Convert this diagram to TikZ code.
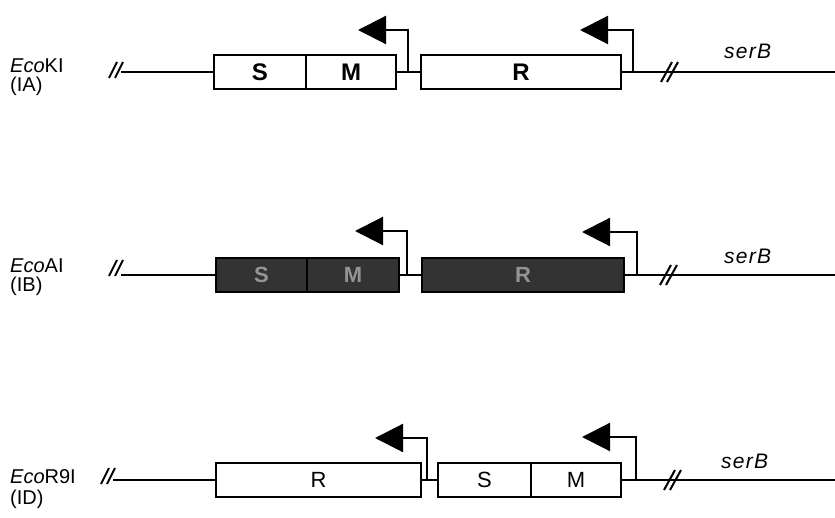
\documentclass[tikz,border=0pt]{standalone}
\usepackage{fontspec}
\setmainfont{Liberation Sans}
\usetikzlibrary{arrows.meta}

\begin{document}
\begin{tikzpicture}[x=1pt,y=-1pt,
  dna/.style={line width=2.4pt},
  prom/.style={line width=2.2pt, -{Triangle[length=28pt,width=28pt]}},
  gene/.style={draw=black, line width=2pt, minimum height=34pt, inner sep=0pt,
    anchor=west, fill=white, font=\fontsize{24}{24}\selectfont\bfseries},
  plain/.style={gene, font=\fontsize{22}{22}\selectfont},
  dark/.style={gene, fill=black!80, text=black!42, font=\fontsize{22}{22}\selectfont\bfseries},
  lab/.style={anchor=base west, inner sep=0pt, font=\fontsize{20}{20}\selectfont},
  locus/.style={anchor=base west, inner sep=0pt, font=\fontsize{21}{21}\selectfont\itshape\addfontfeature{LetterSpace=6}},
  brk/.pic={\draw[line width=2pt] (-8,10) -- (3,-10) (-2,10) -- (9,-10);},
  brkl/.pic={\draw[line width=2pt] (-7,8) -- (1,-8) (-1,8) -- (7,-8);}
]
\useasboundingbox (0,0) rectangle (835,518);

% ---- EcoKI (IA)
\node[lab] (kn) at (10,73) {\textit{Eco}KI};
\node[lab] (kc) at (10,92) {(IA)};
\pic at (116,70) {brkl};
\coordinate (k0) at (121,72);
\node[gene, minimum width=92pt] (kS) at (213,72) {S};
\node[gene, minimum width=90pt] (kM) at (305,72) {M};
\node[gene, minimum width=200pt] (kR) at (420,72) {R};
\coordinate (k1) at (835,72);
\draw[dna] (k0) -- (kS.west);
\draw[dna] (kM.east) -- (kR.west);
\draw[dna] (kR.east) -- (k1);
\coordinate (kp1) at (408,72);
\coordinate (kt1) at (358,30);
\coordinate (kp2) at (633,72);
\coordinate (kt2) at (580,30);
\draw[prom] (kp1) |- (kt1);
\draw[prom] (kp2) |- (kt2);
\pic at (669,72) {brk};
\node[locus] (ks) at (724,59) {serB};

% ---- EcoAI (IB)
\node[lab] (an) at (10,273) {\textit{Eco}AI};
\node[lab] (ac) at (10,292) {(IB)};
\pic at (116,268) {brkl};
\coordinate (a0) at (121,275);
\node[dark, minimum width=91pt] (aS) at (215,275) {S};
\node[dark, minimum width=92pt] (aM) at (306,275) {M};
\node[dark, minimum width=202pt] (aR) at (421,275) {R};
\coordinate (a1) at (835,275);
\draw[dna] (a0) -- (aS.west);
\draw[dna] (aM.east) -- (aR.west);
\draw[dna] (aR.east) -- (a1);
\coordinate (ap1) at (407,275);
\coordinate (at1) at (355,231);
\coordinate (ap2) at (637,275);
\coordinate (at2) at (582,232);
\draw[prom] (ap1) |- (at1);
\draw[prom] (ap2) |- (at2);
\pic at (668,275) {brk};
\node[locus] (as) at (724,264) {serB};

% ---- EcoR9I (ID)
\node[lab] (rn) at (10,483) {\textit{Eco}R9I};
\node[lab] (rc) at (10,504) {(ID)};
\pic at (108,476) {brkl};
\coordinate (r0) at (113,480);
\node[plain, minimum width=205pt] (rR) at (215,480) {R};
\node[plain, minimum width=93pt] (rS) at (437,480) {S};
\node[plain, minimum width=90pt] (rM) at (530,480) {M};
\coordinate (r1) at (835,480);
\draw[dna] (r0) -- (rR.west);
\draw[dna] (rR.east) -- (rS.west);
\draw[dna] (rM.east) -- (r1);
\coordinate (rp1) at (427,480);
\coordinate (rt1) at (375,438);
\coordinate (rp2) at (636,480);
\coordinate (rt2) at (582,437);
\draw[prom] (rp1) |- (rt1);
\draw[prom] (rp2) |- (rt2);
\pic at (672,480) {brk};
\node[locus] (rs) at (721,468) {serB};
\end{tikzpicture}
\end{document}
